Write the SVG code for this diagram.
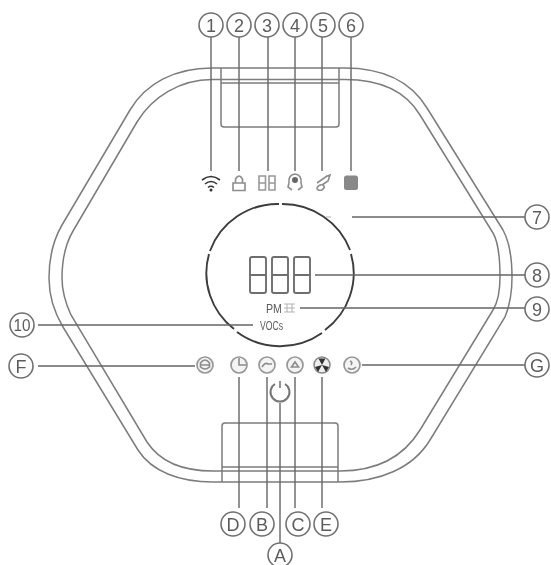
<svg xmlns="http://www.w3.org/2000/svg" width="551" height="565" viewBox="0 0 551 565">
<style>
svg &gt; g{filter:url(#soft)}
.hex{fill:none;stroke:#7c7c7c;stroke-width:1.5}
.lead{fill:none;stroke:#666;stroke-width:1.4}
.cal{fill:#fff;stroke:#707070;stroke-width:1.6}
.num{font-family:"Liberation Sans",Arial,sans-serif;font-size:18px;fill:#5c5c5c;text-anchor:middle}
.ic{fill:none;stroke:#8c8c8c;stroke-width:1.6}
.icd{fill:#f4f4f4;stroke:#979797;stroke-width:1.7}
.seg{fill:none;stroke:#6e6e6e;stroke-width:1.9}
.ring{fill:none;stroke:#3c3c3c;stroke-width:1.9}
.small{font-family:"Liberation Sans",Arial,sans-serif;font-size:13px;fill:#5c5c5c}
</style>
<defs><filter id="soft" filterUnits="userSpaceOnUse" x="0" y="0" width="551" height="565"><feGaussianBlur stdDeviation="0.6"/></filter></defs>
<rect width="551" height="565" fill="#fff"/>
<g id="body">
<path class="hex" d="M212 68H345C380 68 410 80 427 108L503 230C510 243 512 258 512 277C512 292 510 305 505 317L430 440C413 468 380 482 340 482H213C180 482 152 472 138 450L63 327C54 312 49 295 49 278C49 255 55 237 62 225L130 110C146 83 175 68 212 68Z"/>
<path class="hex" d="M212 79.500H345C378 79.500 405 90 420 115L493 233C499 243 500 260 500 277C500 290 498 302 493 310L420 430C404 456 378 471 340 471H213C183 471 160 462 147 442L71 315C65 302 62 292 62 278C62 260 66 243 73 231L137 122C152 97 180 79.500 212 79.500Z"/>
<path class="hex" d="M221 68V124Q221 127 224 127H336Q339 127 339 124V68M221 83H339"/>
<path class="hex" d="M222 482V426Q222 423 225 423H335Q338 423 338 426V482M222 467H338"/>
<path class="ring" d="M279 204A72 71 0 0 0 210 251M209 254A72 71 0 0 0 234 329M237 332A72 71 0 0 0 322 333M325 330A72 71 0 0 0 351 254M350 250A72 71 0 0 0 282 204"/>
</g>
<g id="connectors">
<path class="lead" d="M211 37V171M239 37V171M268 37V171M295 37V171M322 37V171M351 37V171"/>
<path class="lead" d="M239 377V508M267 377V508M280 403V543M295 377V508M322 377V508"/>
<path class="lead" d="M352 217H525M315 275H525M300 308H525M362 365H525M38 325H253M38 366H195"/>
</g>
<g id="n1"><circle class="cal" cx="211" cy="25" r="12"/><text class="num" x="211" y="31.500">1</text>
<path d="M202 180Q211 173 220 180M205 184Q211 179 217 184M208 187.500Q211 185 214 187.500" fill="none" stroke="#333" stroke-width="1.600"/><circle cx="211" cy="190" r="1.500" fill="#333"/></g>
<g id="n2"><circle class="cal" cx="239" cy="25" r="12"/><text class="num" x="239" y="31.500">2</text>
<path class="ic" d="M233 183H245V190.500H233ZM235.500 183V179Q239 173 242.500 179V183"/></g>
<g id="n3"><circle class="cal" cx="267" cy="25" r="12"/><text class="num" x="267" y="31.500">3</text>
<path class="ic" d="M259 176H265.500V190H259ZM259 183H265.500M269 176H275V190H269ZM269 183H275" style="stroke:#999"/></g>
<g id="n4"><circle class="cal" cx="295" cy="25" r="12"/><text class="num" x="295" y="31.500">4</text>
<path class="ic" d="M289 183Q288 175 295 174Q302 175 301 183L302 187L298 190M289 183L288 187L292 190"/><circle cx="295" cy="180" r="3" fill="#666"/></g>
<g id="n5"><circle class="cal" cx="323" cy="25" r="12"/><text class="num" x="323" y="31.500">5</text>
<path class="ic" d="M317 183L327 176L330 175L328 181L322 185M317 188Q319 184 323 185Q326 187 322 190Q317 191 317 188Z"/></g>
<g id="n6"><circle class="cal" cx="351" cy="25" r="12"/><text class="num" x="351" y="31.500">6</text>
<rect x="344" y="175.500" width="14" height="14.500" rx="2.500" fill="#888"/></g>
<g id="n7"><circle class="cal" cx="537" cy="217" r="12"/><text class="num" x="537" y="223.500">7</text>
<path d="M326 217H331" stroke="#bbb" stroke-width="1.200"/></g>
<g id="n8"><circle class="cal" cx="537" cy="275" r="12"/><text class="num" x="537" y="281.500">8</text>
<path class="seg" d="M252 257H264Q266 257 266 259V291Q266 293 264 293H252Q250 293 250 291V259Q250 257 252 257ZM250 275H266"/>
<path class="seg" d="M274 257H286Q288 257 288 259V291Q288 293 286 293H274Q272 293 272 291V259Q272 257 274 257ZM272 275H288"/>
<path class="seg" d="M296 257H308Q310 257 310 259V291Q310 293 308 293H296Q294 293 294 291V259Q294 257 296 257ZM294 275H310"/></g>
<g id="n9"><circle class="cal" cx="537" cy="309" r="12"/><text class="num" x="537" y="315.500">9</text>
<text class="small" x="266" y="313" textLength="16" lengthAdjust="spacingAndGlyphs">PM</text>
<path d="M284 304H295M284 308H295M284 312H295M287 304V312M292 304V312" fill="none" stroke="#aaa" stroke-width=".9"/></g>
<g id="n10"><circle class="cal" cx="22" cy="325" r="12"/><text class="num" x="22" y="330.500" style="font-size:16px" textLength="17" lengthAdjust="spacingAndGlyphs">10</text>
<text class="small" x="260" y="329.500" textLength="23" lengthAdjust="spacingAndGlyphs">VOCs</text></g>
<g id="nF"><circle class="cal" cx="21" cy="366" r="12"/><text class="num" x="21" y="372.500">F</text>
<circle class="icd" cx="205" cy="365" r="8"/><path class="ic" d="M200.500 363Q205 357 209.500 363V367Q205 371 200.500 367ZM201 365H209"/></g>
<g id="nD"><circle class="cal" cx="233" cy="524" r="12"/><text class="num" x="233" y="530.500">D</text>
<circle class="icd" cx="239" cy="365" r="8"/><path class="ic" d="M239 358V365H246"/></g>
<g id="nB"><circle class="cal" cx="262" cy="524" r="12"/><text class="num" x="262" y="530.500">B</text>
<circle class="icd" cx="267" cy="365" r="8"/><path class="ic" d="M262 367Q265 362 268 364L272 364"/></g>
<g id="nC"><circle class="cal" cx="298" cy="524" r="12"/><text class="num" x="298" y="530.500">C</text>
<circle class="icd" cx="295" cy="365" r="8"/><path class="ic" d="M291.500 367L295 362L298.500 367Z"/></g>
<g id="nE"><circle class="cal" cx="326" cy="524" r="12"/><text class="num" x="326" y="530.500">E</text>
<circle cx="322" cy="365" r="8" fill="#eee" stroke="#888" stroke-width="1.500"/><path d="M322 365L318.500 358.500H325.500ZM322 365L315 367L318 372ZM322 365L329 367L326 372Z" fill="#333"/></g>
<g id="nA"><circle class="cal" cx="280" cy="555" r="12"/><text class="num" x="280" y="561.500">A</text>
<path d="M280 381V388" stroke="#777" stroke-width="1.600"/><path fill="none" stroke="#777" stroke-width="2" d="M275 384A9.500 9.500 0 1 0 285 384"/></g>
<g id="nG"><circle class="cal" cx="537" cy="365" r="12"/><text class="num" x="537" y="371.500">G</text>
<circle class="icd" cx="352" cy="365" r="8"/><path class="ic" d="M348 368Q352 371 356 367M350 361Q353 362 351 365"/></g>
</svg>
